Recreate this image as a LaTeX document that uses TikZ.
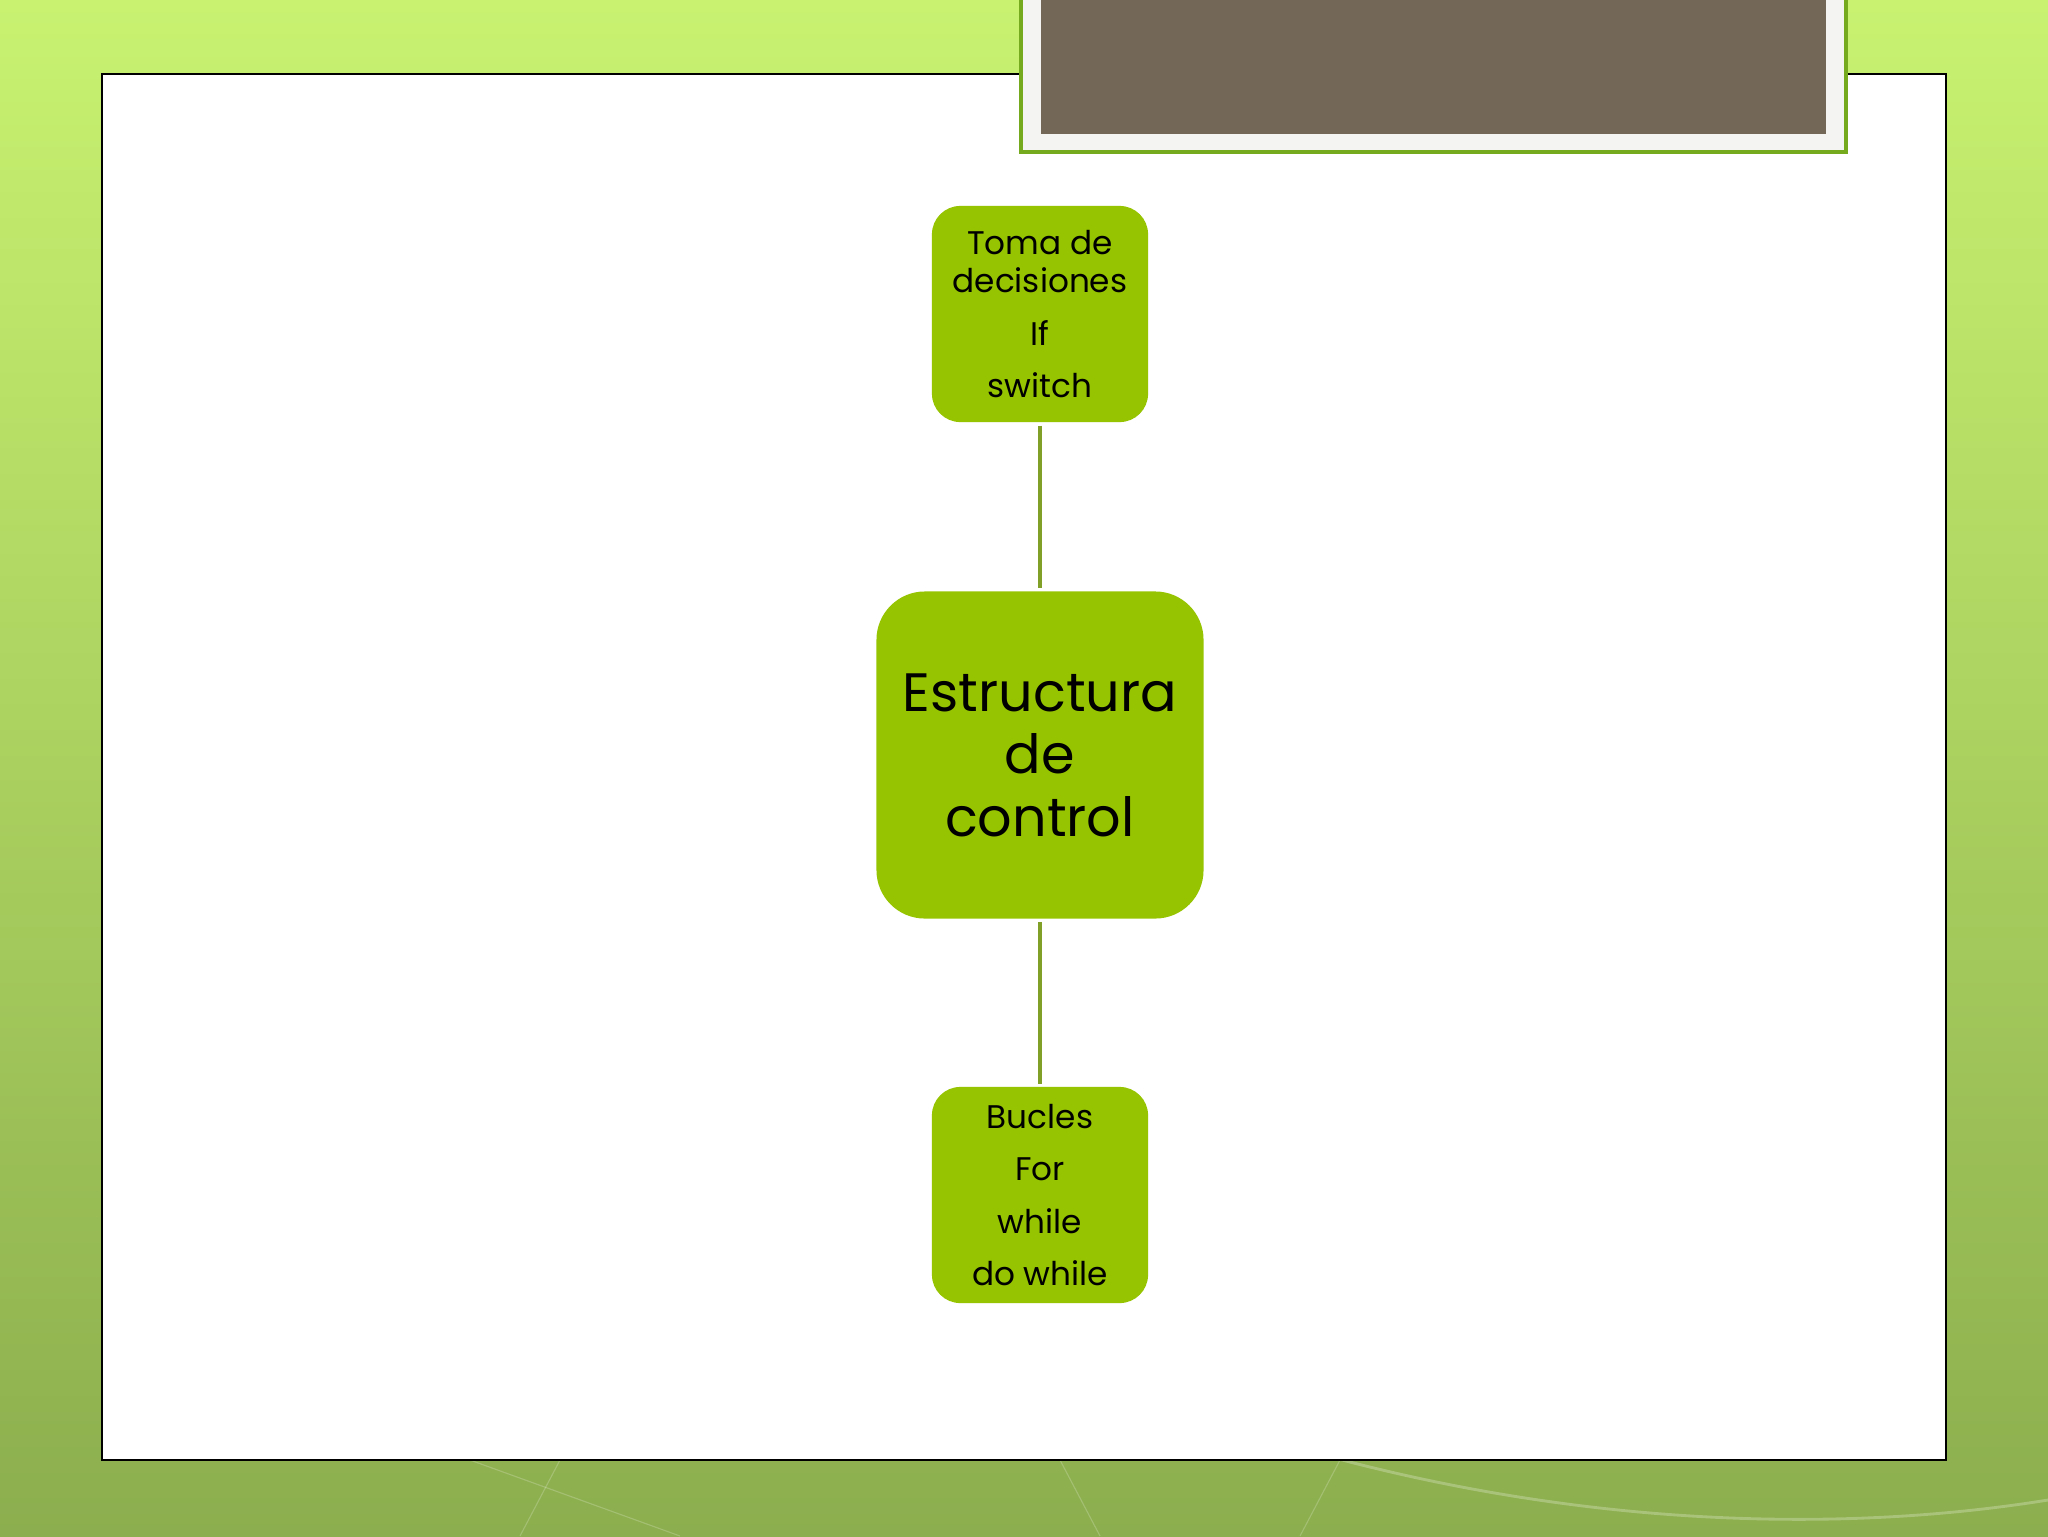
\documentclass[tikz,border=0pt]{standalone}
\usepackage{fontspec}
\setmainfont{Poppins}
\usetikzlibrary{positioning}
\definecolor{leafgreen}{RGB}{150,196,0}
\definecolor{stemgreen}{RGB}{128,160,40}
\definecolor{bgtop}{RGB}{200,242,112}
\definecolor{bgbottom}{RGB}{140,174,78}
\definecolor{titlebrown}{RGB}{115,103,87}
\definecolor{framegray}{RGB}{244,244,242}
\definecolor{framegreen}{RGB}{118,170,30}
\tikzstyle{smallbox}=[
    draw=none, fill=leafgreen, rounded corners=10pt,
    minimum width=76pt, minimum height=76pt,
    inner sep=2pt, align=center,
    font=\fontsize{11.5}{13.4}\selectfont,
]
\tikzstyle{bigbox}=[
    draw=none, fill=leafgreen, rounded corners=17pt,
    minimum width=115pt, minimum height=115pt,
    inner sep=2pt, align=center,
    font=\fontsize{19}{22}\selectfont,
]
\tikzstyle{stem}=[stemgreen, line width=1.3pt, shorten >=1pt, shorten <=1pt]

\begin{document}
\begin{tikzpicture}[x=0.3516pt, y=-0.3516pt]
        \useasboundingbox (0,0) rectangle (2048,1536);
        \shade[top color=bgtop, bottom color=bgbottom] (0,0) rectangle (2048,1536);
        \draw[white, opacity=0.25, line width=1pt] (1210,1420) .. controls (1500,1520) and (1800,1540) .. (2048,1500);
        \draw[white, opacity=0.2] (470,1460) -- (680,1536);
        \draw[white, opacity=0.2] (560,1460) -- (520,1536);
        \draw[white, opacity=0.2] (1060,1460) -- (1100,1536);
        \draw[white, opacity=0.2] (1340,1460) -- (1300,1536);
        \draw[fill=white, line width=1pt] (102,74) rectangle (1946,1460);
        \draw[framegreen, fill=framegray, line width=1.2pt] (1021,-5) rectangle (1846,152);
        \fill[titlebrown] (1041,-5) rectangle (1826,134);
        \node[bigbox] (control) at (1040,755) {Estructura\\de\\control};
        \node[smallbox] (decision) at (1040,314) {Toma de\\decisiones\\[5pt]If\\[5pt]switch};
        \node[smallbox] (bucle) at (1040,1195) {Bucles\\[5pt]For\\[5pt]while\\[5pt]do while};
        \draw[stem] (decision) -- (control);
        \draw[stem] (control) -- (bucle);
    \end{tikzpicture}
\end{document}
